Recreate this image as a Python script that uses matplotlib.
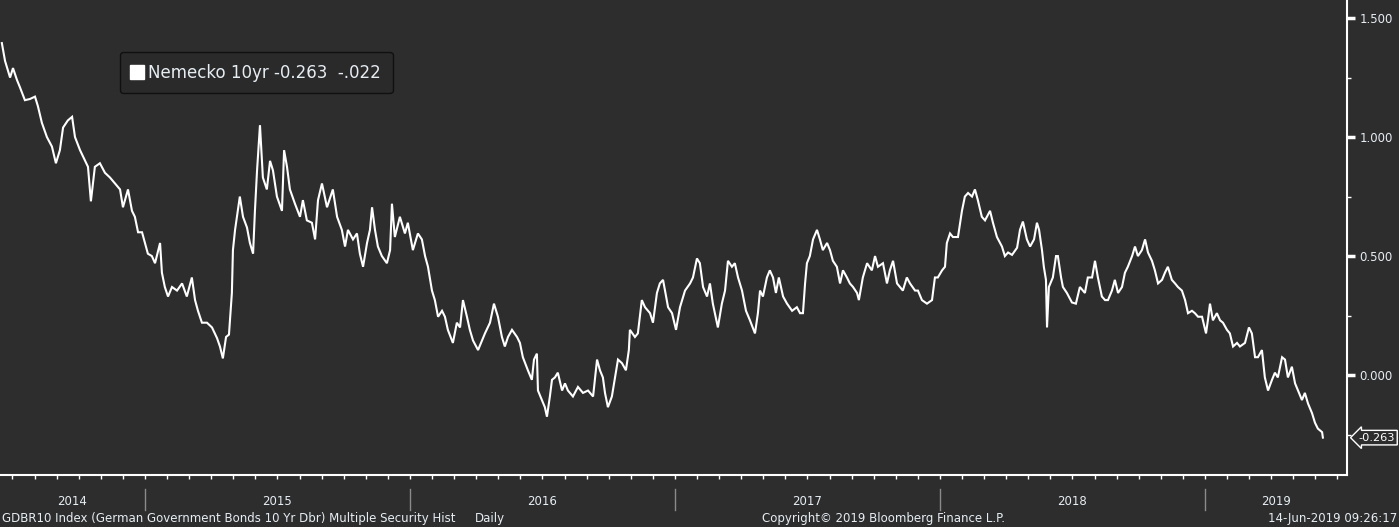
import matplotlib
matplotlib.use("Agg")
import numpy as np
import matplotlib.pyplot as plt
from matplotlib.lines import Line2D
from matplotlib.transforms import blended_transform_factory

# decimal-year time stamps and 10y Bund yields
t_2014 = [2014.460, 2014.472, 2014.491, 2014.502, 2014.517, 2014.528, 2014.547, 2014.566,
          2014.585, 2014.596, 2014.611, 2014.630, 2014.649, 2014.664, 2014.679, 2014.691,
          2014.709, 2014.725, 2014.736, 2014.755, 2014.774, 2014.785, 2014.796, 2014.811,
          2014.830, 2014.849, 2014.868, 2014.887, 2014.906, 2014.917, 2014.936, 2014.951,
          2014.962, 2014.974, 2014.989]
y_2014 = [1.395, 1.32, 1.25, 1.29, 1.24, 1.21, 1.155, 1.16,
          1.17, 1.13, 1.06, 1.00, 0.96, 0.89, 0.945, 1.04,
          1.07, 1.085, 1.00, 0.945, 0.90, 0.875, 0.73, 0.875,
          0.89, 0.85, 0.83, 0.805, 0.78, 0.705, 0.78, 0.69,
          0.665, 0.60, 0.60]

t_2015 = [2015.000, 2015.011, 2015.026, 2015.038, 2015.057, 2015.064, 2015.075, 2015.087,
          2015.102, 2015.121, 2015.140, 2015.158, 2015.177, 2015.189, 2015.200, 2015.215,
          2015.234, 2015.253, 2015.272, 2015.283, 2015.294, 2015.306, 2015.317, 2015.328,
          2015.332, 2015.340, 2015.347, 2015.358, 2015.370, 2015.385, 2015.396, 2015.408,
          2015.415, 2015.423, 2015.434, 2015.445, 2015.460, 2015.472, 2015.483, 2015.498,
          2015.517, 2015.525, 2015.536, 2015.547, 2015.566, 2015.585, 2015.596, 2015.611,
          2015.630, 2015.642, 2015.653, 2015.668, 2015.687, 2015.709, 2015.725, 2015.743,
          2015.755, 2015.766, 2015.785, 2015.800, 2015.811, 2015.823, 2015.838, 2015.849,
          2015.857, 2015.868, 2015.879, 2015.894, 2015.913, 2015.925, 2015.932, 2015.943,
          2015.962, 2015.981, 2015.992]
y_2015 = [0.555, 0.51, 0.50, 0.47, 0.555, 0.43, 0.37, 0.33,
          0.37, 0.355, 0.385, 0.33, 0.41, 0.315, 0.27, 0.22,
          0.22, 0.20, 0.155, 0.12, 0.07, 0.16, 0.17, 0.345,
          0.525, 0.61, 0.665, 0.75, 0.665, 0.62, 0.555, 0.51,
          0.69, 0.86, 1.05, 0.83, 0.78, 0.90, 0.86, 0.75,
          0.69, 0.945, 0.875, 0.78, 0.72, 0.665, 0.735, 0.65,
          0.64, 0.57, 0.735, 0.805, 0.705, 0.78, 0.665, 0.61,
          0.54, 0.61, 0.57, 0.595, 0.51, 0.455, 0.555, 0.61,
          0.705, 0.61, 0.54, 0.50, 0.47, 0.525, 0.72, 0.58,
          0.665, 0.595, 0.64]

t_2016 = [2016.011, 2016.030, 2016.045, 2016.057, 2016.068, 2016.083, 2016.094, 2016.106,
          2016.121, 2016.132, 2016.143, 2016.162, 2016.177, 2016.189, 2016.200, 2016.215,
          2016.226, 2016.238, 2016.257, 2016.272, 2016.283, 2016.302, 2016.317, 2016.332,
          2016.347, 2016.358, 2016.370, 2016.385, 2016.404, 2016.415, 2016.426, 2016.445,
          2016.460, 2016.468, 2016.479, 2016.483, 2016.498, 2016.509, 2016.517, 2016.528,
          2016.536, 2016.547, 2016.558, 2016.574, 2016.585, 2016.596, 2016.615, 2016.634,
          2016.653, 2016.672, 2016.691, 2016.706, 2016.717, 2016.728, 2016.736, 2016.747,
          2016.762, 2016.774, 2016.785, 2016.800, 2016.815, 2016.826, 2016.830, 2016.849,
          2016.860, 2016.875, 2016.887, 2016.906, 2016.917, 2016.932, 2016.943, 2016.955,
          2016.974, 2016.989]
y_2016 = [0.525, 0.595, 0.57, 0.50, 0.455, 0.355, 0.315, 0.245,
          0.27, 0.245, 0.19, 0.135, 0.22, 0.20, 0.315, 0.245,
          0.19, 0.145, 0.105, 0.145, 0.175, 0.22, 0.30, 0.245,
          0.16, 0.12, 0.16, 0.19, 0.16, 0.135, 0.075, 0.02,
          -0.02, 0.065, 0.09, -0.065, -0.105, -0.135, -0.175, -0.09,
          -0.02, -0.01, 0.01, -0.065, -0.035, -0.065, -0.09, -0.05,
          -0.075, -0.065, -0.09, 0.065, 0.02, -0.01, -0.075, -0.135,
          -0.09, -0.01, 0.065, 0.05, 0.02, 0.105, 0.19, 0.16,
          0.175, 0.315, 0.285, 0.26, 0.22, 0.345, 0.385, 0.40,
          0.285, 0.26]

t_2017 = [2017.004, 2017.019, 2017.038, 2017.057, 2017.068, 2017.083, 2017.094, 2017.106,
          2017.121, 2017.132, 2017.143, 2017.162, 2017.177, 2017.189, 2017.200, 2017.215,
          2017.226, 2017.238, 2017.253, 2017.268, 2017.283, 2017.302, 2017.313, 2017.321,
          2017.332, 2017.347, 2017.358, 2017.370, 2017.381, 2017.392, 2017.408, 2017.423,
          2017.442, 2017.460, 2017.472, 2017.483, 2017.491, 2017.498, 2017.509, 2017.521,
          2017.536, 2017.547, 2017.558, 2017.574, 2017.585, 2017.596, 2017.611, 2017.623,
          2017.634, 2017.649, 2017.660, 2017.672, 2017.687, 2017.694, 2017.709, 2017.725,
          2017.743, 2017.755, 2017.766, 2017.785, 2017.800, 2017.811, 2017.823, 2017.838,
          2017.849, 2017.860, 2017.875, 2017.887, 2017.906, 2017.917, 2017.932, 2017.951,
          2017.970, 2017.981, 2017.992]
y_2017 = [0.19, 0.285, 0.355, 0.385, 0.41, 0.49, 0.47, 0.37,
          0.33, 0.385, 0.30, 0.20, 0.30, 0.355, 0.48, 0.455,
          0.47, 0.41, 0.355, 0.27, 0.23, 0.175, 0.26, 0.355,
          0.33, 0.41, 0.44, 0.41, 0.345, 0.41, 0.33, 0.30,
          0.27, 0.285, 0.26, 0.26, 0.385, 0.47, 0.50, 0.57,
          0.61, 0.57, 0.525, 0.555, 0.525, 0.48, 0.455, 0.385,
          0.44, 0.41, 0.385, 0.37, 0.345, 0.315, 0.41, 0.47,
          0.44, 0.50, 0.455, 0.47, 0.385, 0.44, 0.48, 0.385,
          0.37, 0.355, 0.41, 0.385, 0.355, 0.355, 0.315, 0.30,
          0.315, 0.41, 0.41]

t_2018 = [2018.008, 2018.019, 2018.026, 2018.038, 2018.049, 2018.068, 2018.083, 2018.094,
          2018.106, 2018.121, 2018.132, 2018.143, 2018.158, 2018.170, 2018.189, 2018.200,
          2018.215, 2018.234, 2018.245, 2018.257, 2018.272, 2018.291, 2018.302, 2018.313,
          2018.328, 2018.340, 2018.355, 2018.366, 2018.374, 2018.385, 2018.392, 2018.400,
          2018.404, 2018.411, 2018.426, 2018.438, 2018.445, 2018.457, 2018.464, 2018.479,
          2018.498, 2018.513, 2018.528, 2018.547, 2018.558, 2018.574, 2018.585, 2018.596,
          2018.611, 2018.623, 2018.634, 2018.649, 2018.660, 2018.672, 2018.687, 2018.698,
          2018.709, 2018.725, 2018.736, 2018.747, 2018.762, 2018.774, 2018.785, 2018.800,
          2018.811, 2018.823, 2018.838, 2018.849, 2018.860, 2018.875, 2018.887, 2018.898,
          2018.913, 2018.925, 2018.936, 2018.951, 2018.962, 2018.974, 2018.989]
y_2018 = [0.44, 0.455, 0.555, 0.595, 0.58, 0.58, 0.69, 0.75,
          0.765, 0.75, 0.78, 0.735, 0.665, 0.65, 0.69, 0.64,
          0.58, 0.54, 0.50, 0.515, 0.505, 0.535, 0.61, 0.645,
          0.57, 0.54, 0.57, 0.64, 0.61, 0.525, 0.455, 0.40,
          0.20, 0.37, 0.41, 0.50, 0.50, 0.41, 0.37, 0.345,
          0.305, 0.30, 0.37, 0.345, 0.41, 0.41, 0.48, 0.41,
          0.33, 0.315, 0.315, 0.355, 0.40, 0.345, 0.37, 0.43,
          0.455, 0.50, 0.54, 0.50, 0.525, 0.57, 0.515, 0.48,
          0.44, 0.385, 0.40, 0.43, 0.455, 0.40, 0.385, 0.37,
          0.355, 0.315, 0.26, 0.27, 0.26, 0.245, 0.245]

t_2019 = [2019.004, 2019.011, 2019.019, 2019.030, 2019.045, 2019.057, 2019.068, 2019.083,
          2019.094, 2019.106, 2019.121, 2019.132, 2019.151, 2019.166, 2019.177, 2019.189,
          2019.200, 2019.215, 2019.226, 2019.238, 2019.253, 2019.264, 2019.275, 2019.291,
          2019.302, 2019.313, 2019.328, 2019.340, 2019.351, 2019.366, 2019.377, 2019.389,
          2019.404, 2019.415, 2019.426, 2019.442, 2019.445]
y_2019 = [0.175, 0.23, 0.30, 0.23, 0.26, 0.23, 0.22, 0.19,
          0.175, 0.12, 0.135, 0.12, 0.135, 0.20, 0.175, 0.075,
          0.075, 0.105, -0.01, -0.065, -0.02, 0.01, -0.01, 0.075,
          0.065, -0.01, 0.035, -0.035, -0.065, -0.105, -0.075, -0.12,
          -0.16, -0.20, -0.225, -0.24, -0.263]

years = [2014, 2015, 2016, 2017, 2018, 2019]
y_ticks = [0.0, 0.5, 1.0, 1.5]
series_name = "Nemecko 10yr"
last_value = -0.263
change = "-.022"

BG = "#2d2d2d"
FG = "#e6edf3"

t = np.array(t_2014 + t_2015 + t_2016 + t_2017 + t_2018 + t_2019)
y = np.array(y_2014 + y_2015 + y_2016 + y_2017 + y_2018 + y_2019)

plt.rcParams["font.family"] = ["DejaVu Sans"]

fig = plt.figure(figsize=(13.99, 5.27), dpi=100, facecolor=BG)
ax = fig.add_axes([0, 52 / 527, 1347 / 1399, 475 / 527])
ax.set_facecolor(BG)

ax.plot(t, y, color="white", lw=1.5, solid_joinstyle="miter")

x0, x1 = 2014.453, 2019.536
ax.set_xlim(x0, x1)
ax.set_ylim(-0.42, 1.576)

for s in ["top", "left"]:
    ax.spines[s].set_visible(False)
for s in ["right", "bottom"]:
    ax.spines[s].set_color("white")
    ax.spines[s].set_linewidth(1.5)

# right-hand value axis
ax.yaxis.tick_right()
ax.set_yticks(y_ticks)
ax.set_yticklabels(["%.3f" % v for v in y_ticks])
ax.set_yticks(np.arange(-0.25, 1.6, 0.25), minor=True)
ax.tick_params(axis="y", which="major", direction="out", length=6, width=2.5,
               colors="white", labelcolor=FG, labelsize=8.5, pad=3)
ax.tick_params(axis="y", which="minor", direction="out", length=3, width=1, colors="white")

# monthly ticks along the bottom
months = [yr + m / 12 for yr in range(2014, 2020) for m in range(12)]
months = [m for m in months if x0 < m < x1]
ax.set_xticks(months)
ax.set_xticklabels([])
ax.tick_params(axis="x", which="major", direction="out", length=3, width=1, colors="white")

# year labels and separators
trans = blended_transform_factory(ax.transData, ax.transAxes)
for yr in years:
    if yr > x0:
        ax.plot([yr, yr], [-0.03, -0.074], transform=trans, color="#8a8a8a",
                lw=1, clip_on=False)
    mid = (max(yr, x0) + min(yr + 1, x1)) / 2
    ax.text(mid, -0.055, str(yr), transform=trans, ha="center", va="center",
            color=FG, fontsize=8.5, clip_on=False)

# legend box
handle = Line2D([], [], marker="s", color="white", ls="none", markersize=9.5)
leg = ax.legend([handle], ["%s %.3f  %s" % (series_name, last_value, change)],
                loc="upper left", bbox_to_anchor=(0.089, 0.8905), borderaxespad=0,
                handlelength=0.7, handletextpad=0.3, fontsize=12,
                labelcolor=FG, fancybox=True, borderpad=0.7)
frame = leg.get_frame()
frame.set_facecolor("#2a2a2a")
frame.set_edgecolor("#101010")
frame.set_alpha(1)
frame.set_linewidth(1)

# last value tag on the axis
ytrans = blended_transform_factory(ax.transAxes, ax.transData)
ax.text(1.0085, last_value, "%.3f" % last_value, transform=ytrans, ha="left", va="center",
        color="white", fontsize=8.2, clip_on=False,
        bbox=dict(boxstyle="larrow,pad=0.2", fc=BG, ec="white", lw=1))

# footer
fig.text(0.0015, 0.017, "GDBR10 Index (German Government Bonds 10 Yr Dbr) Multiple Security Hist",
         color=FG, fontsize=8.5, va="center", ha="left")
fig.text(475 / 1399, 0.017, "Daily", color=FG, fontsize=8.5, va="center", ha="left")
fig.text(884 / 1399, 0.017, "Copyright\u00a9 2019 Bloomberg Finance L.P.",
         color=FG, fontsize=8.5, va="center", ha="center")
fig.text(0.9985, 0.017, "14-Jun-2019 09:26:17", color=FG, fontsize=8.5,
         va="center", ha="right")

fig.savefig("out.png", dpi=100, facecolor=BG)
